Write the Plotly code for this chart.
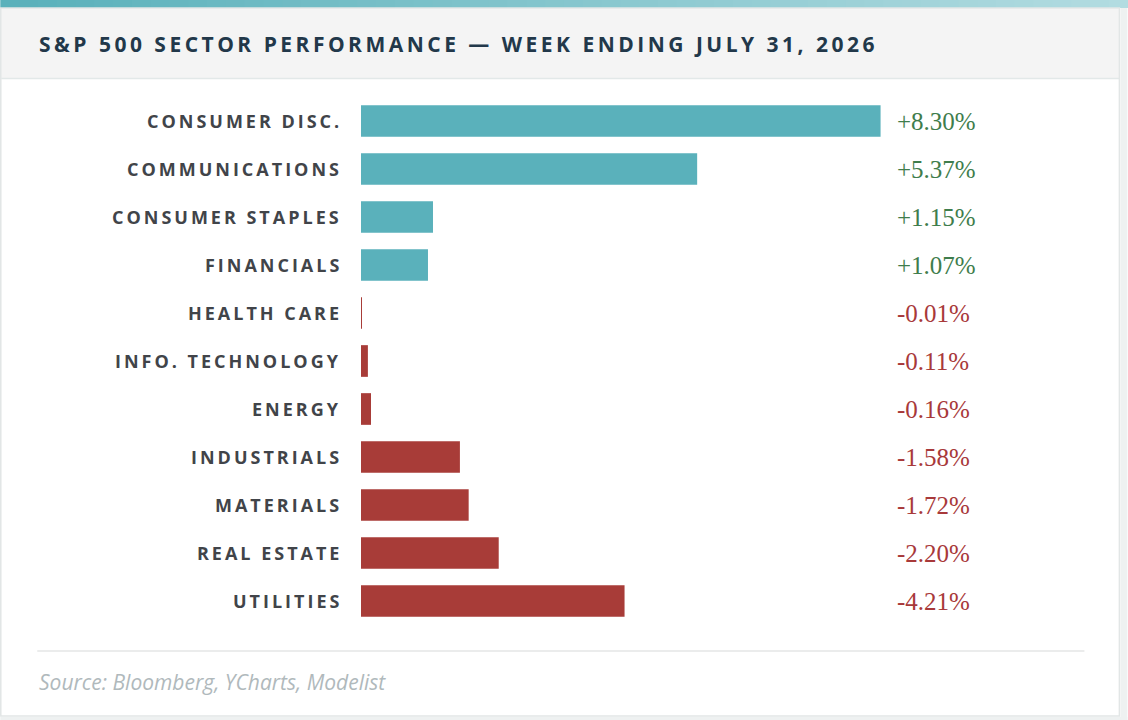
import plotly.graph_objects as go

sectors = ["CONSUMER DISC.", "COMMUNICATIONS", "CONSUMER STAPLES", "FINANCIALS",
           "HEALTH CARE", "INFO. TECHNOLOGY", "ENERGY", "INDUSTRIALS",
           "MATERIALS", "REAL ESTATE", "UTILITIES"]
returns = [8.30, 5.37, 1.15, 1.07, -0.01, -0.11, -0.16, -1.58, -1.72, -2.20, -4.21]

W, H = 1128, 720
L, R, T, B = 361, 140.5, 97, 95
PW, PH = W - L - R, H - T - B


def px(x):
    return (x - L) / PW


def py(y):
    return (H - B - y) / PH


def spaced(s, sep="\u2009"):
    return sep.join(s)


colors = ["#5ab1bb" if v >= 0 else "#a83c38" for v in returns]
fig = go.Figure(go.Bar(
    y=sectors, x=[abs(v) for v in returns], orientation="h",
    marker=dict(color=colors, line=dict(width=0)), width=0.66,
    hoverinfo="skip",
))

shapes = []
# top gradient strip
n = 60
c0, c1 = (90, 177, 187), (178, 220, 225)
for i in range(n):
    t = i / (n - 1)
    c = tuple(int(a + (b - a) * t) for a, b in zip(c0, c1))
    shapes.append(dict(type="rect", xref="paper", yref="paper",
                       x0=px(W * i / n), x1=px(W * (i + 1) / n + 1), y0=py(8), y1=py(0),
                       fillcolor="rgb(%d,%d,%d)" % c, line=dict(width=0), layer="below"))
# header band
shapes.append(dict(type="rect", xref="paper", yref="paper", x0=px(1), x1=px(1120),
                   y0=py(78), y1=py(8), fillcolor="#f4f4f4",
                   line=dict(width=0), layer="below"))
shapes.append(dict(type="line", xref="paper", yref="paper", x0=px(1), x1=px(1120),
                   y0=py(78.5), y1=py(78.5), line=dict(color="#e2e8e8", width=1.5)))
# card border
shapes.append(dict(type="rect", xref="paper", yref="paper", x0=px(0.5), x1=px(1120),
                   y0=py(716), y1=py(8), line=dict(color="#e2e6e6", width=1.5)))
shapes.append(dict(type="rect", xref="paper", yref="paper", x0=px(0), x1=px(W),
                   y0=py(H), y1=py(717), fillcolor="#eef1f1", line=dict(width=0)))
shapes.append(dict(type="rect", xref="paper", yref="paper", x0=px(1121), x1=px(W),
                   y0=py(H), y1=py(8), fillcolor="#eef1f1", line=dict(width=0)))
# footer separator
shapes.append(dict(type="line", xref="paper", yref="paper", x0=px(37), x1=px(1085),
                   y0=py(651), y1=py(651), line=dict(color="#e4e6e6", width=1.5)))

annotations = [
    dict(text=spaced("S&P 500 SECTOR PERFORMANCE — WEEK ENDING JULY 31, 2026"),
         xref="paper", yref="paper", x=px(37), y=py(44), xanchor="left", yanchor="middle",
         showarrow=False, font=dict(family="Open Sans", size=21, color="#22384a", weight="bold")),
    dict(text="Source: Bloomberg, YCharts, Modelist", xref="paper", yref="paper",
         x=px(37), y=py(682), xanchor="left", yanchor="middle", showarrow=False,
         font=dict(family="Open Sans", size=21, color="#b0b9bc", style="italic")),
]
for s, v in zip(sectors, returns):
    annotations.append(dict(
        text=("+" if v >= 0 else "") + "%.2f%%" % v, xref="paper", yref="y",
        x=px(895), y=s, xanchor="left", yanchor="middle", showarrow=False,
        font=dict(family="Liberation Serif", size=25,
                  color="#3f7d4c" if v >= 0 else "#a8393a")))
    annotations.append(dict(
        text=spaced(s), xref="paper", yref="y", x=px(341), y=s,
        xanchor="right", yanchor="middle", showarrow=False,
        font=dict(family="Open Sans", size=18, color="#414449", weight="bold")))

fig.update_layout(
    width=W, height=H, margin=dict(l=L, r=R, t=T, b=B),
    paper_bgcolor="white", plot_bgcolor="white", showlegend=False,
    xaxis=dict(range=[0, PW / 62.65], visible=False, fixedrange=True),
    yaxis=dict(autorange="reversed", showticklabels=False, showgrid=False,
               zeroline=False, fixedrange=True),
    shapes=shapes, annotations=annotations,
)
fig.write_html("out.html", config={"displayModeBar": False},
               post_script="document.body.style.margin='0';")
